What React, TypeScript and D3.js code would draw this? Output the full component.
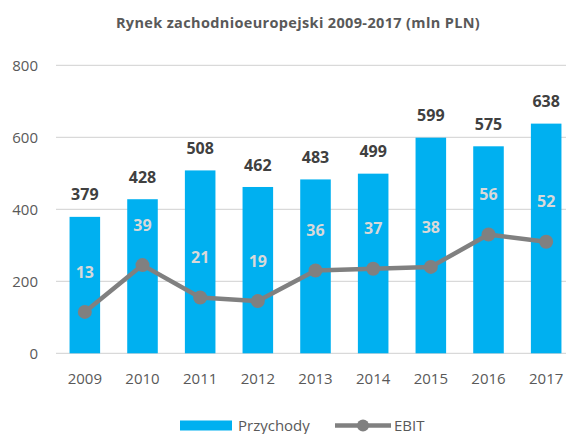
import React from "react";
import * as d3 from "d3";

const years = ["2009", "2010", "2011", "2012", "2013", "2014", "2015", "2016", "2017"];
const przychody = [379, 428, 508, 462, 483, 499, 599, 575, 638];
const ebit = [13, 39, 21, 19, 36, 37, 38, 56, 52];
const yTicks = [0, 200, 400, 600, 800];

const W = 568;
const H = 434;
const FONT = "'Open Sans', 'Noto Sans', sans-serif";
const BLUE = "#00b0f0";
const GRAY_LINE = "#808080";
const TEXT = "#595959";

const App = () => {
  // kategorie
  const x = d3.scaleBand<string>().domain(years).range([56, 575]).paddingInner(0.47).paddingOuter(0.235);
  // oś główna (przychody)
  const y = d3.scaleLinear().domain([0, 800]).range([353.3, 65.3]);
  // oś pomocnicza (EBIT) - ukryta
  const y2 = d3.scaleLinear().domain([-10, 150]).range([353.3, 65.3]);

  const cx = (d: string) => (x(d) ?? 0) + x.bandwidth() / 2;

  const line = d3
    .line<number>()
    .x((_, i) => cx(years[i]))
    .y((d) => y2(d));

  return (
    <svg width={W} height={H} style={{ position: "absolute", left: 0, top: 0, background: "#fff" }} fontFamily={FONT}>
      <text x={298} y={28} textAnchor="middle" fontSize={14.5} letterSpacing={0.35} fontWeight="bold" fill={TEXT}>
        Rynek zachodnioeuropejski 2009-2017 (mln PLN)
      </text>

      {/* siatka + etykiety osi Y */}
      {yTicks.map((t) => (
        <g key={t}>
          <line x1={56} x2={566} y1={y(t)} y2={y(t)} stroke="#d9d9d9" strokeWidth={1.3} />
          <text x={38} y={y(t)} dy="0.35em" textAnchor="end" fontSize={15} fill={TEXT}>
            {t}
          </text>
        </g>
      ))}

      {/* słupki */}
      {przychody.map((v, i) => (
        <g key={years[i]}>
          <rect x={x(years[i])} y={y(v)} width={x.bandwidth()} height={y(0) - y(v)} fill={BLUE} />
          <text x={cx(years[i])} y={y(v) - 22} dy="0.35em" textAnchor="middle" fontSize={16} fontWeight="bold" fill="#404040">
            {v}
          </text>
        </g>
      ))}

      {/* etykiety osi X */}
      {years.map((yr) => (
        <text key={yr} x={cx(yr)} y={379} dy="0.35em" textAnchor="middle" fontSize={15} fill={TEXT}>
          {yr}
        </text>
      ))}

      {/* EBIT */}
      <path d={line(ebit) ?? ""} fill="none" stroke={GRAY_LINE} strokeWidth={4.5} strokeLinejoin="round" />
      {ebit.map((v, i) => (
        <g key={"e" + years[i]}>
          <circle cx={cx(years[i])} cy={y2(v)} r={7} fill={GRAY_LINE} />
          <text x={cx(years[i])} y={y2(v) - 40} dy="0.35em" textAnchor="middle" fontSize={16} fontWeight="bold" fill="#d9d9d9">
            {v}
          </text>
        </g>
      ))}

      {/* legenda */}
      <rect x={180} y={420.5} width={52} height={10} fill={BLUE} />
      <text x={238} y={425.5} dy="0.35em" fontSize={15} fill={TEXT}>
        Przychody
      </text>
      <line x1={335} x2={391} y1={425.5} y2={425.5} stroke={GRAY_LINE} strokeWidth={4.5} />
      <circle cx={363} cy={425.5} r={6} fill={GRAY_LINE} />
      <text x={394} y={425.5} dy="0.35em" fontSize={15} fill={TEXT}>
        EBIT
      </text>
    </svg>
  );
};

export default App;
